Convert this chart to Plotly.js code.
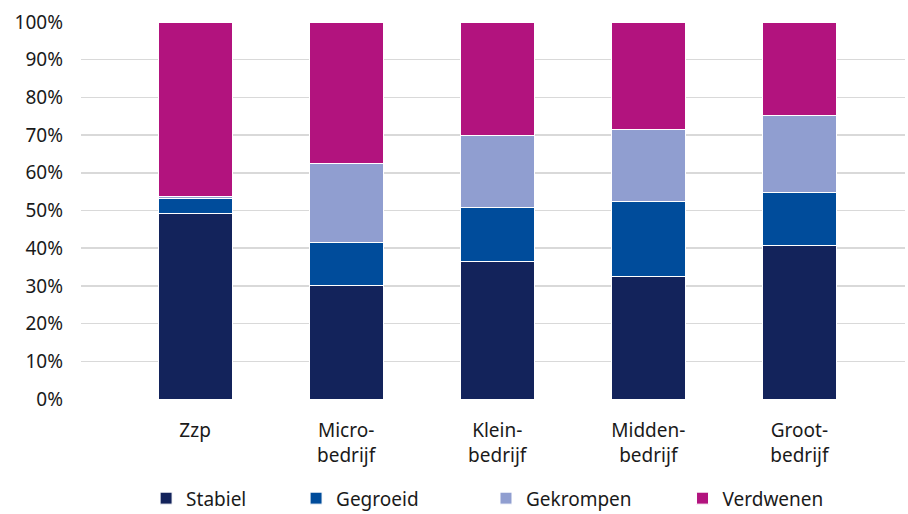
<!DOCTYPE html>
<html>
<head>
<meta charset="utf-8">
<script src="https://cdn.plot.ly/plotly-3.0.1.min.js"></script>
<style>html,body{margin:0;padding:0;background:#fff;}#chart{width:908px;height:514px;}</style>
</head>
<body>
<div id="chart"></div>
<script>
const categories = ["Zzp", "Micro-<br>bedrijf", "Klein-<br>bedrijf", "Midden-<br>bedrijf", "Groot-<br>bedrijf"];
const stabiel   = [49.1, 30.0, 36.6, 32.4, 40.8];
const gegroeid  = [4.2, 11.6, 14.3, 20.1, 14.1];
const gekrompen = [0.3, 21.0, 19.1, 19.1, 20.2];
const verdwenen = [46.4, 37.4, 30.0, 28.4, 24.9];
const yTickVals = [0, 10, 20, 30, 40, 50, 60, 70, 80, 90, 100];
const yTickText = ["0%", "10%", "20%", "30%", "40%", "50%", "60%", "70%", "80%", "90%", "100%"];

const seriesNames = ["Stabiel", "Gegroeid", "Gekrompen", "Verdwenen"];
const seriesVals = [stabiel, gegroeid, gekrompen, verdwenen];
const colors = ["#13235b", "#004c9b", "#909ed0", "#b2137e"];
const legendIds = ["legend", "legend2", "legend3", "legend4"];
const legendX = [0.0790, 0.2610, 0.4915, 0.7300];

const font = "Noto Sans, sans-serif";
const traces = seriesNames.map((n, i) => ({
  type: "bar",
  name: n,
  x: categories,
  y: seriesVals[i],
  width: 0.49,
  marker: {color: colors[i], line: {color: "#ffffff", width: 1}},
  legend: legendIds[i],
  hoverinfo: "skip"
}));

const layout = {
  width: 908, height: 514,
  margin: {l: 81, r: 3, t: 22, b: 115, autoexpand: false},
  barmode: "stack",
  paper_bgcolor: "#ffffff",
  plot_bgcolor: "#ffffff",
  font: {family: font, size: 19, color: "#1a1a1a"},
  xaxis: {
    type: "category",
    range: [-0.755, 4.699],
    showgrid: false, zeroline: false, showline: false,
    ticks: "", ticklabelstandoff: 18,
    tickfont: {family: font, size: 19, color: "#1a1a1a"}
  },
  yaxis: {
    range: [0, 100],
    tickvals: yTickVals, ticktext: yTickText,
    showgrid: true, gridcolor: "#d9d9d9", gridwidth: 1.5,
    zeroline: false, showline: false, ticks: "",
    ticklabelstandoff: 17,
    tickfont: {family: font, size: 19, color: "#1a1a1a"}
  },
  showlegend: true
};
legendIds.forEach((id, i) => {
  layout[id] = {
    orientation: "h", x: legendX[i], xanchor: "left",
    y: -0.213, yanchor: "top",
    bgcolor: "rgba(0,0,0,0)", borderwidth: 0,
    font: {family: font, size: 19, color: "#1a1a1a"}
  };
});

Plotly.newPlot("chart", traces, layout, {staticPlot: true, displayModeBar: false});
</script>
</body>
</html>
